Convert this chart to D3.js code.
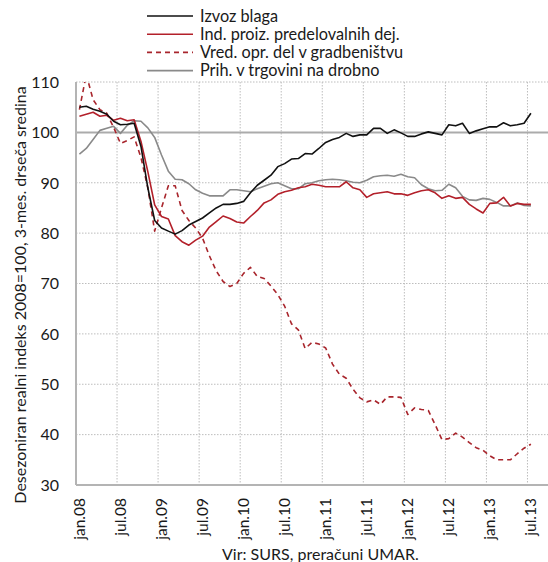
<!DOCTYPE html>
<html>
<head>
<meta charset="utf-8">
<script src="https://cdn.jsdelivr.net/npm/d3@7"></script>
<style>
  body { margin: 0; background: #fff; }
  text { font-family: Lato, "Noto Sans", sans-serif; fill: #1a1a1a; }
</style>
</head>
<body>
<div id="chart"></div>
<script>
// monthly values jan.08 .. jul.13 (67 months)
const tickLabels = ["jan.08", "jul.08", "jan.09", "jul.09", "jan.10", "jul.10", "jan.11",
    "jul.11", "jan.12", "jul.12", "jan.13", "jul.13"]

const izvozBlaga = [105.0, 105.2, 104.6, 104.2, 103.6, 102.2, 101.5, 101.6, 101.8, 97.2,
    89.0, 82.5, 81.0, 80.4, 79.8, 80.5, 81.6, 82.3, 83.0, 84.0,
    85.0, 85.7, 85.7, 85.9, 86.3, 88.0, 89.5, 90.5, 91.5, 93.2,
    93.8, 94.7, 94.8, 95.8, 95.7, 96.8, 98.0, 98.6, 99.0, 99.8,
    99.2, 99.5, 99.5, 100.8, 100.8, 99.8, 100.5, 99.9, 99.2, 99.2,
    99.7, 100.1, 99.8, 99.5, 101.5, 101.3, 101.8, 99.8, 100.3, 100.7,
    101.1, 101.1, 101.9, 101.3, 101.5, 101.8, 103.8]

const indProiz = [103.2, 103.6, 104.0, 103.2, 103.4, 102.4, 102.8, 102.3, 102.5, 98.2,
    92.2, 85.6, 83.3, 82.8, 79.5, 78.3, 77.6, 78.6, 79.4, 81.2,
    82.3, 83.4, 82.9, 82.2, 82.0, 83.3, 84.5, 86.0, 86.6, 87.7,
    88.2, 88.5, 89.0, 89.2, 89.7, 89.5, 89.2, 89.2, 89.2, 90.2,
    89.0, 88.6, 87.1, 87.8, 88.0, 88.2, 87.8, 87.8, 87.5, 88.0,
    88.4, 88.6, 88.0, 86.9, 87.4, 86.9, 87.1, 85.7, 84.8, 84.0,
    85.9, 86.0, 87.1, 85.4, 85.9, 85.7, 85.7]

const gradbenistvo = [104.5, 111.5, 106.5, 104.5, 103.8, 101.0, 97.8, 98.4, 99.1, 95.0,
    89.0, 80.4, 85.0, 89.4, 89.4, 84.5, 82.5, 81.0, 79.0, 75.5,
    72.5, 70.4, 69.4, 70.0, 72.0, 73.2, 71.4, 71.0, 69.5, 67.8,
    65.5, 62.0, 60.8, 57.1, 58.3, 58.0, 57.2, 54.0, 52.0, 51.2,
    49.0, 47.3, 46.5, 46.9, 46.0, 47.5, 47.5, 47.4, 44.0, 45.3,
    45.0, 44.8, 42.0, 39.0, 39.2, 40.3, 39.5, 38.4, 37.4, 36.9,
    35.8, 35.0, 35.0, 35.0, 36.2, 37.3, 38.1]

const trgovina = [95.7, 96.8, 98.6, 100.4, 100.8, 101.2, 99.8, 101.4, 102.3, 102.2,
    100.9, 99.0, 95.5, 92.3, 90.7, 90.6, 89.8, 88.6, 87.9, 87.4,
    87.4, 87.4, 88.6, 88.6, 88.4, 88.2, 88.8, 89.3, 89.8, 90.0,
    89.4, 88.8, 88.8, 89.8, 90.0, 90.4, 90.6, 90.7, 90.6, 90.4,
    90.1, 90.0, 90.5, 91.2, 91.4, 91.5, 91.3, 91.7, 91.2, 91.0,
    89.6, 88.8, 88.4, 88.5, 89.7, 89.0, 87.3, 86.6, 86.5, 86.9,
    86.7, 86.1, 85.4, 85.4, 86.0, 85.5, 85.4]

const series = [
    { name: "Izvoz blaga", values: izvozBlaga, color: "#111", dash: null },
    { name: "Ind. proiz. predelovalnih dej.", values: indProiz, color: "#b3202a", dash: null },
    { name: "Vred. opr. del v gradbeništvu", values: gradbenistvo, color: "#a8252c", dash: "5,4" },
    { name: "Prih. v trgovini na drobno", values: trgovina, color: "#8a8a8a", dash: null }
]

const width = 548, height = 562
const margin = { top: 82, right: 0, bottom: 77, left: 76 }

const svg = d3.select("#chart").append("svg")
    .attr("width", width)
    .attr("height", height)

const x = d3.scaleLinear().domain([0, 69]).range([margin.left, width - margin.right])
const y = d3.scaleLinear().domain([30, 110]).range([height - margin.bottom, margin.top])

svg.append("clipPath").attr("id", "plot-clip")
    .append("rect")
    .attr("x", margin.left).attr("y", margin.top)
    .attr("width", width - margin.left - margin.right)
    .attr("height", height - margin.top - margin.bottom)

// grid
const yTicks = d3.range(30, 111, 10)
svg.append("g")
    .selectAll("line")
    .data(yTicks.filter(d => d !== 100 && d !== 30))
    .enter().append("line")
    .attr("x1", margin.left).attr("x2", width - margin.right)
    .attr("y1", d => y(d)).attr("y2", d => y(d))
    .attr("stroke", "#bdbdbd").attr("stroke-dasharray", "1.5,1.5")

svg.append("g")
    .selectAll("line")
    .data(tickLabels.slice(1))
    .enter().append("line")
    .attr("x1", (d, i) => x((i + 1) * 6)).attr("x2", (d, i) => x((i + 1) * 6))
    .attr("y1", margin.top).attr("y2", y(30))
    .attr("stroke", "#bdbdbd").attr("stroke-dasharray", "1.5,1.5")

// 100 reference line
svg.append("line")
    .attr("x1", margin.left).attr("x2", width - margin.right)
    .attr("y1", y(100)).attr("y2", y(100))
    .attr("stroke", "#ababab").attr("stroke-width", 2)

// axis lines
svg.append("line")
    .attr("x1", margin.left).attr("x2", margin.left)
    .attr("y1", margin.top).attr("y2", y(30))
    .attr("stroke", "#b4b4b4").attr("stroke-width", 2)
svg.append("line")
    .attr("x1", margin.left).attr("x2", width - margin.right)
    .attr("y1", y(30)).attr("y2", y(30))
    .attr("stroke", "#b4b4b4").attr("stroke-width", 2)

// y tick labels
svg.append("g")
    .selectAll("text")
    .data(yTicks)
    .enter().append("text")
    .attr("x", 59).attr("y", d => y(d))
    .attr("dy", "0.36em")
    .attr("text-anchor", "end")
    .style("font-size", "16px")
    .text(d => d)

// x tick labels (rotated)
svg.append("g")
    .selectAll("text")
    .data(tickLabels)
    .enter().append("text")
    .attr("transform", (d, i) => `translate(${x(i * 6 + 0.5)},498) rotate(-90)`)
    .attr("dy", "0.36em")
    .attr("text-anchor", "end")
    .style("font-size", "15.5px")
    .text(d => d)

// y axis title
svg.append("text")
    .attr("transform", "translate(20,295) rotate(-90)")
    .attr("dy", "0.36em")
    .attr("text-anchor", "middle")
    .style("font-size", "16px")
    .text("Desezoniran realni indeks 2008=100, 3-mes. drseča sredina")

// lines
const line = d3.line()
    .x((d, i) => x(i + 0.5))
    .y(d => y(d))

const lines = svg.append("g").attr("clip-path", "url(#plot-clip)")
series.slice().reverse().forEach(s => {
    lines.append("path")
        .datum(s.values)
        .attr("d", line)
        .attr("fill", "none")
        .attr("stroke", s.color)
        .attr("stroke-width", 1.6)
        .attr("stroke-dasharray", s.dash)
        .attr("stroke-linejoin", "round")
})

// legend
const legend = svg.append("g")
    .selectAll("g")
    .data(series)
    .enter().append("g")
    .attr("transform", (d, i) => `translate(147,${16 + i * 18.2})`)
legend.append("line")
    .attr("x1", 0).attr("x2", 46)
    .attr("stroke", d => d.color)
    .attr("stroke-width", 1.6)
    .attr("stroke-dasharray", d => d.dash)
legend.append("text")
    .attr("x", 53)
    .attr("dy", "0.36em")
    .style("font-size", "16.3px")
    .text(d => d.name)

// source
svg.append("text")
    .attr("x", 222).attr("y", 560)
    .style("font-size", "16px")
    .text("Vir: SURS, preračuni UMAR.")
</script>
</body>
</html>
